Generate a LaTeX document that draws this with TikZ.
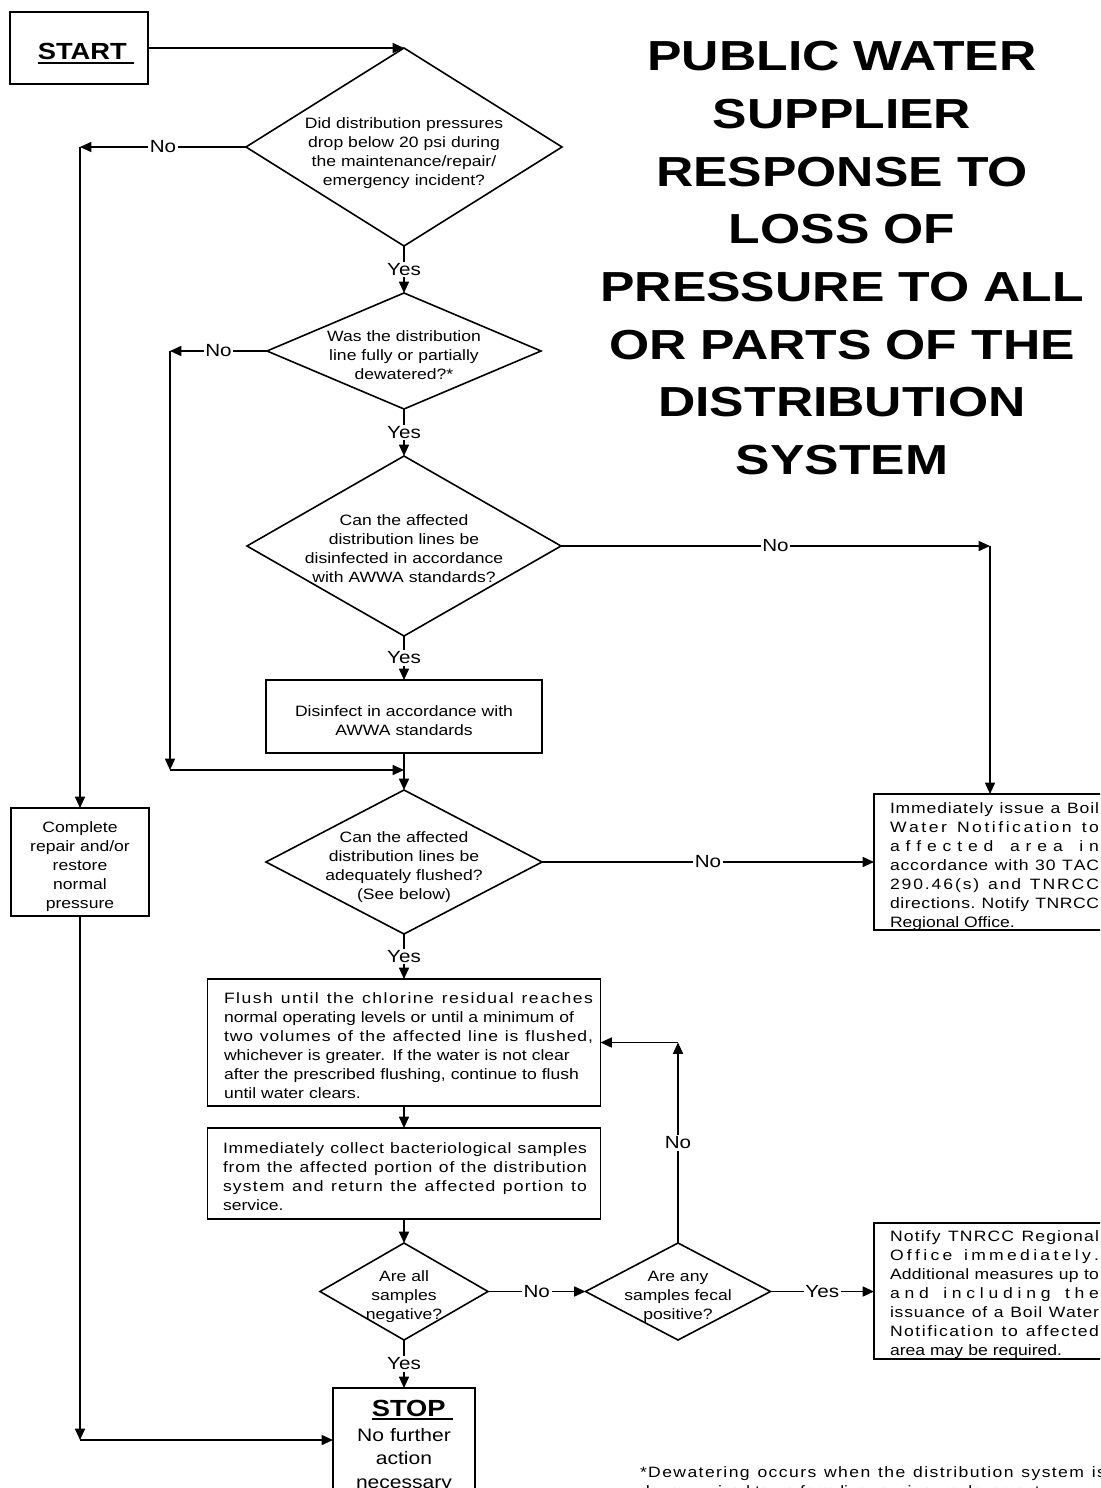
\documentclass[tikz,border=0pt]{standalone}
\usepackage{fontspec}
\setmainfont{Liberation Sans}[FakeStretch=1.17,Ligatures=NoCommon]
\newfontfamily\titlefont{Liberation Sans}[FakeStretch=1.23]
\usetikzlibrary{shapes.geometric,arrows.meta}
\newcommand\bodyfont{\fontsize{11.25}{14.25}\selectfont}
\newcommand\lblfont{\fontsize{13.2}{15}\selectfont}
\newcommand\myul[1]{\setbox0=\hbox{#1}\rlap{\rule[-2.8pt]{\wd0}{1.4pt}}\box0}
\makeatletter
\newcommand\dline[1]{\leavevmode\hbox to \hsize{\dl@w#1 \@nil}}
\def\dl@w#1 #2\@nil{\lsp{#1}\ifx\relax#2\relax\else\hfil\ \hfil\dl@w#2\@nil\fi}
\def\lsp#1{\lsp@a#1\@nil}
\def\lsp@a#1#2\@nil{#1\ifx\relax#2\relax\else\hfil\lsp@a#2\@nil\fi}
\makeatother
\begin{document}
\begin{tikzpicture}[x=0.75pt,y=-0.75pt,line width=1.2pt,
  arr/.style={-{Triangle[length=8.5pt,width=7.5pt]}},
  boxn/.style={draw,rectangle,inner sep=0pt,outer sep=0pt},
  dia/.style={draw,diamond,inner sep=0pt,outer sep=0pt},
  txt/.style={inner sep=0pt,outer sep=0pt,font=\bodyfont},
  lbl/.style={fill=white,inner sep=1.2pt,font=\lblfont}]
\useasboundingbox (0,0) rectangle (1100,1488);
\fill[white] (0,0) rectangle (1100,1488);
\clip (0,0) rectangle (1100,1488);

% title
\node[inner sep=0pt,anchor=base,text width=375pt,align=center,
  font=\titlefont\bfseries\fontsize{31.5}{43.2}\selectfont] (title) at (842,71)
  {PUBLIC WATER\\SUPPLIER\\RESPONSE TO\\LOSS OF\\PRESSURE TO ALL\\OR PARTS OF THE\\DISTRIBUTION\\SYSTEM};

% shapes
\node[boxn,minimum width=103.5pt,minimum height=54pt] (start) at (79,48) {};
\node[dia,minimum width=237pt,minimum height=148.5pt] (d1) at (404,147) {};
\node[dia,minimum width=205.5pt,minimum height=87pt] (d2) at (404,351) {};
\node[dia,minimum width=235.5pt,minimum height=135pt] (d3) at (404,546) {};
\node[boxn,minimum width=207pt,minimum height=54.75pt] (dis) at (404,716.5) {};
\node[dia,minimum width=207pt,minimum height=108pt] (d4) at (404,862) {};
\node[boxn,minimum width=103.5pt,minimum height=81pt] (complete) at (80,862) {};
\node[boxn,minimum width=174pt,minimum height=102pt] (boil) at (990,862) {};
\node[boxn,minimum width=294.75pt,minimum height=95.25pt] (flush) at (404,1042.5) {};
\node[boxn,minimum width=294.75pt,minimum height=68.25pt] (collect) at (404,1173.5) {};
\node[dia,minimum width=126pt,minimum height=72.75pt] (d5) at (404,1291.5) {};
\node[dia,minimum width=138.75pt,minimum height=72.75pt] (d6) at (678,1291.5) {};
\node[boxn,minimum width=174pt,minimum height=102pt] (notify) at (990,1291) {};
\node[boxn,minimum width=106.5pt,minimum height=91.5pt] (stop) at (404,1449) {};

% texts
\node[inner sep=0pt,anchor=base west,font=\fontsize{17.5}{20}\selectfont] (startt) at (37,60) {\myul{\bfseries START\ }};
\node[txt,anchor=base,text width=195pt,align=center] (d1t) at (404,128)
  {Did distribution pressures\\drop below 20 psi during\\the maintenance/repair/\\emergency incident?};
\node[txt,anchor=base,text width=165pt,align=center] (d2t) at (404,341)
  {Was the distribution\\line fully or partially\\dewatered?*};
\node[txt,anchor=base,text width=180pt,align=center] (d3t) at (404,525)
  {Can the affected\\distribution lines be\\disinfected in accordance\\with AWWA standards?};
\node[txt,anchor=base,text width=195pt,align=center] (dist) at (404,716)
  {Disinfect in accordance with\\AWWA standards};
\node[txt,anchor=base,text width=165pt,align=center] (d4t) at (404,842)
  {Can the affected\\distribution lines be\\adequately flushed?\\(See below)};
\node[txt,anchor=base,text width=97.5pt,align=center] (compt) at (80,832)
  {Complete\\repair and/or\\restore\\normal\\pressure};
\node[txt,anchor=base west,text width=156.75pt,align=left] (boilt) at (890,813)
  {\dline{Immediately issue a Boil}\\\dline{Water Notification to}\\\dline{affected area in}\\\dline{accordance with 30 TAC}\\\dline{290.46(s) and TNRCC}\\\dline{directions. Notify TNRCC}\\Regional Office.};
\node[txt,anchor=base west,text width=276.75pt,align=left] (flusht) at (224,1003)
  {\dline{Flush until the chlorine residual reaches}\\normal operating levels or until a minimum of\\\dline{two volumes of the affected line is flushed,}\\whichever is greater. If the water is not clear\\after the prescribed flushing, continue to flush\\until water clears.};
\node[txt,anchor=base west,text width=273pt,align=left] (collt) at (223,1153)
  {\dline{Immediately collect bacteriological samples}\\\dline{from the affected portion of the distribution}\\\dline{system and return the affected portion to}\\service.};
\node[txt,anchor=base,text width=97.5pt,align=center] (d5t) at (404,1281)
  {Are all\\samples\\negative?};
\node[txt,anchor=base,text width=112.5pt,align=center] (d6t) at (678,1281)
  {Are any\\samples fecal\\positive?};
\node[txt,anchor=base west,text width=156.75pt,align=left] (notift) at (890,1241)
  {\dline{Notify TNRCC Regional}\\\dline{Office immediately.}\\\dline{Additional measures up to}\\\dline{and including the}\\\dline{issuance of a Boil Water}\\\dline{Notification to affected}\\area may be required.};
\node[inner sep=0pt,anchor=base west,font=\fontsize{17.5}{20}\selectfont] (stopt) at (371,1416) {\myul{\bfseries STOP\ }};
\node[inner sep=0pt,anchor=base,text width=105pt,align=center,font=\fontsize{13.5}{17.6}\selectfont] (stopb) at (404,1441.5)
  {No further\\action\\necessary};
\node[txt,anchor=base west,text width=349.5pt,align=left] (foot) at (640,1477)
  {\dline{*Dewatering occurs when the distribution system is}\\depressurized to perform line repair or replacement.};

% connectors
\coordinate (c1) at (complete.north |- d1.west);
\coordinate (c3) at (170,351);
\coordinate (c4) at (170,770);
\coordinate (c5) at (404,770);
\coordinate (c6) at (boil.north |- d3.east);
\coordinate (c7) at (d6.north |- flush.east);
\coordinate (c2) at (80,1440);
\coordinate (c8) at (d6.east -| notify.west);
\coordinate (c9) at (c2 -| stop.west);

\draw[arr] (start.east) -- (d1.north);
\draw[arr] (d1.west) -- node[lbl] (l1) {No} (c1);
\draw[arr] (c1) -- (complete.north);
\draw[arr] (d1.south) -- node[lbl] (l2) {Yes} (d2.north);
\draw[arr] (d2.west) -- node[lbl] (l3) {No} (c3);
\draw[arr] (c3) -- (c4);
\draw[arr] (c4) -- (c5);
\draw[arr] (d2.south) -- node[lbl] (l4) {Yes} (d3.north);
\draw[arr] (d3.east) -- node[lbl] (l5) {No} (c6);
\draw[arr] (c6) -- (boil.north);
\draw[arr] (d3.south) -- node[lbl] (l6) {Yes} (dis.north);
\draw[arr] (dis.south) -- (d4.north);
\draw[arr] (d4.east) -- node[lbl] (l7) {No} (boil.west);
\draw[arr] (d4.south) -- node[lbl] (l8) {Yes} (flush.north);
\draw[arr] (flush.south) -- (collect.north);
\draw[arr] (collect.south) -- (d5.north);
\draw[arr] (d5.east) -- node[lbl] (l9) {No} (d6.west);
\draw[arr] (d6.north) -- node[lbl] (l10) {No} (c7);
\draw[arr] (c7) -- (flush.east);
\draw[arr] (d6.east) -- node[lbl] (l11) {Yes} (c8);
\draw[arr] (d5.south) -- node[lbl] (l12) {Yes} (stop.north);
\draw[arr] (complete.south) -- (c2);
\draw[arr] (c2) -- (c9);
\end{tikzpicture}
\end{document}
